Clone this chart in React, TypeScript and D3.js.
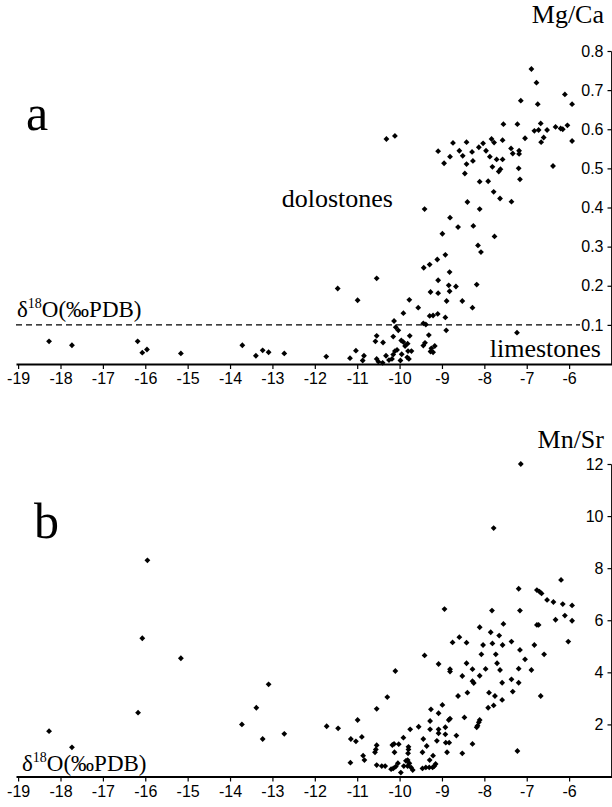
import React, { useEffect, useRef } from 'react';
import * as d3 from 'd3';

const xTicks = [-19, -18, -17, -16, -15, -14, -13, -12, -11, -10, -9, -8, -7, -6];
const mgCaTicks = [0.1, 0.2, 0.3, 0.4, 0.5, 0.6, 0.7, 0.8];
const mnSrTicks = [2, 4, 6, 8, 10, 12];
const limitMgCa = 0.1;

const mgCaD18O = [
  -18.27, -17.73, -16.18, -16.07, -15.96, -15.16, -13.71, -13.39, -13.23, -13.09, -12.72, -11.73,
  -11.46, -10.99, -10.54, -10.31, -10.11,
  -11.17, -11.03, -10.87, -10.84, -10.57, -10.54, -10.39, -10.54, -10.5, -10.4, -10.32, -10.15,
  -10.13, -10.09, -10.03, -10.15, -10.11, -10.06, -10.18, -9.98, -9.91, -9.87, -9.91, -9.77,
  -9.76, -9.81, -9.8, -9.72, -9.82, -9.78, -9.56, -9.44, -9.38, -9.29, -9.21, -9.1, -8.92, -8.9,
  -9.31, -9.44, -9.4, -9.25, -9.21, -9.17, -9.27, -7.23, -9.96, -10.25, -9.95,
  -9.43, -9.29, -9.11, -8.92, -8.99, -8.81, -8.62, -8.4, -8.11, -8.26, -8.15, -8.08, -7.76,
  -9.09, -8.82, -8.84, -8.82, -8.67, -9.27, -9.09, -8.89, -8.52, -8.28, -8.18, -9.41,
  -9.09, -8.95, -8.81, -8.74, -8.59, -8.51, -8.46, -8.42, -8.42, -8.29, -8.27, -8.13, -8.11,
  -8.03, -7.96, -7.87, -7.91, -7.83, -7.81, -7.77, -7.78, -7.71, -7.66, -7.62, -7.63, -7.57,
  -7.57, -7.55, -7.37, -7.33, -7.36, -7.22, -7.18, -7.18, -7.19, -7.16, -7.14, -7.04, -6.89,
  -6.82, -6.77, -6.74, -6.72, -6.67, -6.66, -6.6, -6.52, -6.38, -6.32, -6.2, -6.15, -6.1, -6.04,
  -5.93, -5.93
];
const mgCaValues = [
  0.058, 0.048, 0.058, 0.029, 0.037, 0.027, 0.048, 0.021, 0.035, 0.03, 0.027, 0.019,
  0.193, 0.163, 0.219, 0.575, 0.583,
  0.015, 0.034, 0.009, 0.021, 0.058, 0.072, 0.055, 0.013, 0.006, 0.003, 0.021, 0.07,
  0.11, 0.094, 0.086, 0.024, 0.033, 0.036, 0.013, 0.009, 0.056, 0.046, 0.13, 0.164,
  0.072, 0.052, 0.033, 0.033, 0.017, 0.013, 0.144, 0.104, 0.101, 0.123, 0.124, 0.128, 0.119, 0.086,
  0.074, 0.047, 0.054, 0.04, 0.03, 0.046, 0.032, 0.08, 0.06, 0.01, 0.025,
  0.246, 0.254, 0.267, 0.279, 0.333, 0.374, 0.35, 0.414, 0.396, 0.353, 0.303, 0.286, 0.326,
  0.214, 0.235, 0.201, 0.186, 0.198, 0.184, 0.181, 0.161, 0.161, 0.144, 0.203, 0.396,
  0.544, 0.513, 0.53, 0.565, 0.545, 0.532, 0.487, 0.567, 0.511, 0.542, 0.519, 0.554, 0.466,
  0.564, 0.545, 0.53, 0.467, 0.575, 0.504, 0.566, 0.44, 0.523, 0.492, 0.498, 0.423, 0.572,
  0.523, 0.613, 0.551, 0.538, 0.415, 0.613, 0.545, 0.537, 0.5, 0.472, 0.673, 0.577, 0.754,
  0.596, 0.719, 0.664, 0.598, 0.615, 0.567, 0.579, 0.598, 0.506, 0.606, 0.602, 0.6, 0.689, 0.61,
  0.664, 0.57
];

const mnSrD18O = [
  -15.95, -16.07, -15.16, -13.09, -13.38, -16.17, -13.72, -12.72, -13.23, -18.27, -17.73,
  -7.14, -7.78, -6.19, -7.19, -6.76, -6.7, -6.65, -6.52, -6.37, -6.15, -5.93, -6.1, -6.32, -5.93,
  -6.02, -6.59, -6.67, -6.76, -6.72, -6.82, -6.89, -7.04, -7.16, -7.16, -7.19, -7.19, -7.33,
  -7.36, -7.36, -7.22, -7.55, -7.57, -7.58, -7.58, -7.65, -7.63, -7.7, -7.73, -7.75, -7.78,
  -7.82, -7.81, -7.85, -7.89, -7.91, -7.97, -8.03, -8.07, -8.11, -8.11, -8.11, -8.13, -8.16,
  -8.18, -8.28, -8.28, -8.25, -8.28, -8.42, -8.42, -8.4, -8.47, -8.52, -8.52, -8.59, -8.62,
  -8.66, -8.75, -8.81, -8.81, -8.81, -8.84, -8.83, -8.91, -8.88, -8.92, -8.92, -8.94, -8.99,
  -9.08, -9.08, -9.08, -9.08, -9.12, -9.15, -9.18, -9.22, -9.21, -9.26, -9.28, -9.28, -9.29,
  -9.3, -9.38, -9.46, -9.36, -9.41, -9.44, -9.46, -9.55, -9.75, -9.79, -9.79, -9.8, -9.81,
  -9.85, -9.77, -9.81, -9.73, -9.69, -9.91, -9.9, -9.97, -10.04, -10.09, -10.15, -10.2,
  -10.02, -10.13, -10.17, -10.12, -10.1, -10.29, -10.34, -10.42, -10.54, -10.54, -10.54,
  -10.56, -10.58, -10.83, -10.86, -10.89, -10.99, -11.03, -11.15, -11.16, -11.45, -11.72
];
const mnSrValues = [
  8.3, 5.31, 4.54, 3.54, 2.64, 2.45, 2.0, 1.64, 1.44, 1.74, 1.12,
  12.0, 9.54, 7.55, 7.21, 7.16, 7.1, 7.03, 6.78, 6.7, 6.62, 6.57, 6.18, 6.02, 5.98,
  5.18, 4.69, 3.09, 5.82, 5.82, 5.05, 4.09, 4.5, 4.86, 6.37, 4.14, 3.6, 3.26,
  3.73, 5.18, 0.98, 5.86, 5.05, 3.6, 2.94, 5.41, 4.09, 4.35, 4.69, 3.09, 2.73,
  6.37, 5.11, 5.54, 3.22, 2.64, 4.13, 5.05, 4.69, 5.73, 3.87, 2.17, 2.08, 1.95,
  1.89, 4.12, 3.66, 3.59, 1.25, 5.14, 4.35, 3.22, 2.27, 3.86, 0.89, 5.35, 3.09,
  1.57, 5.15, 4.12, 4.03, 2.22, 2.17, 1.3, 1.3, 0.93, 1.89, 1.62, 6.43, 2.75,
  4.32, 2.43, 1.81, 1.66, 1.37, 0.48, 0.4, 0.35, 0.8, 2.58, 2.13, 1.81, 0.63,
  0.35, 0.35, 0.31, 1.17, 4.65, 1.44, 0.93, 1.91, 1.81, 1.14, 1.04, 0.89, 0.63,
  0.6, 0.51, 0.4, 0.35, 0.25, 1.49, 0.4, 0.15, 0.51, 0.38, 0.31, 0.28,
  1.24, 1.25, 1.21, 0.93, 4.05, 3.05, 0.4, 0.4, 0.44, 2.6, 1.2,
  1.04, 0.93, 0.63, 0.8, 1.52, 2.17, 1.35, 1.44, 0.53, 1.85, 1.93
];

const W = 612;
const H = 807;
const SANS = "'Liberation Sans', Arial, sans-serif";
const SERIF = "'Liberation Serif', 'Times New Roman', serif";

export default function App() {
  const ref = useRef<SVGSVGElement>(null);

  useEffect(() => {
    const svg = d3.select(ref.current);
    svg.selectAll('*').remove();

    const x = d3.scaleLinear().domain([-19.05, -5]).range([16, 611.5]);

    const panels = [
      {
        xs: mgCaD18O, ys: mgCaValues, ticks: mgCaTicks, domain: [0, 0.8], range: [364, 51],
        fmt: (d: number) => d.toFixed(1),
        yLabel: 'Mg/Ca', yLabelY: 23, letter: 'a', letterX: 26, letterY: 130,
        d18X: 17, d18Y: 317,
      },
      {
        xs: mnSrD18O, ys: mnSrValues, ticks: mnSrTicks, domain: [0, 12], range: [776.5, 464],
        fmt: (d: number) => String(d),
        yLabel: 'Mn/Sr', yLabelY: 448, letter: 'b', letterX: 34, letterY: 538,
        d18X: 22, d18Y: 771,
      },
    ];

    panels.forEach((p, i) => {
      const y = d3.scaleLinear().domain(p.domain).range(p.range);
      const g = svg.append('g');

      const xAxis = d3.axisBottom(x).tickValues(xTicks).tickSize(5).tickSizeOuter(0)
        .tickPadding(4).tickFormat((d: any) => String(d));
      const xg = g.append('g').attr('transform', `translate(0,${p.range[0]})`).call(xAxis);
      xg.select('.domain').attr('stroke-width', 1.8);
      xg.selectAll('.tick line').attr('stroke-width', 1.2);
      xg.selectAll('.tick text').attr('font-family', SANS).attr('font-size', 16).attr('fill', '#000');

      const yAxis = d3.axisLeft(y).tickValues(p.ticks).tickSize(4).tickSizeOuter(0)
        .tickPadding(4).tickFormat((d: any) => p.fmt(d));
      const yg = g.append('g').attr('transform', `translate(${x.range()[1]},0)`).call(yAxis);
      yg.select('.domain').attr('stroke-width', 1.8);
      yg.selectAll('.tick line').attr('stroke-width', 1.2);
      yg.selectAll('.tick text').attr('font-family', SANS).attr('font-size', 16).attr('fill', '#000');

      const sym = d3.symbol().type(d3.symbolSquare).size(17);
      g.append('g').selectAll('path').data(p.xs.map((v, k) => [v, p.ys[k]]))
        .join('path')
        .attr('d', sym as any)
        .attr('transform', (d: number[]) => `translate(${x(d[0])},${y(d[1])}) rotate(45)`)
        .attr('fill', '#000');

      g.append('text').attr('x', 604).attr('y', p.yLabelY).attr('text-anchor', 'end')
        .attr('font-family', SERIF).attr('font-size', 26).text(p.yLabel);

      g.append('text').attr('x', p.letterX).attr('y', p.letterY)
        .attr('font-family', SERIF).attr('font-size', 50).text(p.letter);

      const t = g.append('text').attr('x', p.d18X).attr('y', p.d18Y)
        .attr('font-family', SERIF).attr('font-size', 23);
      t.append('tspan').text('δ');
      t.append('tspan').attr('font-size', 14).attr('dy', -9).text('18');
      t.append('tspan').attr('dy', 9).text('O(‰PDB)');

      if (i === 0) {
        g.append('line')
          .attr('x1', x.range()[0]).attr('x2', 580)
          .attr('y1', y(limitMgCa)).attr('y2', y(limitMgCa))
          .attr('stroke', '#000').attr('stroke-width', 1.3).attr('stroke-dasharray', '6,4');
        g.append('text').attr('x', 393).attr('y', 207).attr('text-anchor', 'end')
          .attr('font-family', SERIF).attr('font-size', 26).text('dolostones');
        g.append('text').attr('x', 601).attr('y', 357).attr('text-anchor', 'end')
          .attr('font-family', SERIF).attr('font-size', 26).text('limestones');
      }
    });
  }, []);

  return (
    <svg ref={ref} width={W} height={H}
      style={{ position: 'absolute', left: 0, top: 0, background: '#fff' }} />
  );
}
